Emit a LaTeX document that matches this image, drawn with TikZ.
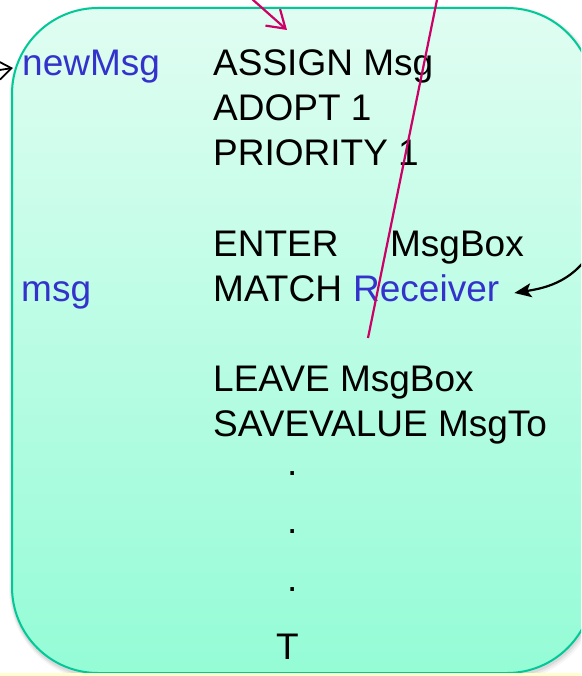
\documentclass[tikz,border=0pt]{standalone}
\usepackage{fontspec}
\setmainfont{Liberation Sans}
\usetikzlibrary{arrows.meta}
\definecolor{boxtop}{RGB}{224,253,242}
\definecolor{boxmid}{RGB}{190,253,228}
\definecolor{boxbot}{RGB}{148,252,214}
\definecolor{boxline}{RGB}{0,200,150}
\definecolor{linkred}{RGB}{204,0,102}
\definecolor{varblue}{RGB}{51,51,204}
\definecolor{stripe}{RGB}{255,255,204}
\begin{document}
\begin{tikzpicture}[x=1pt,y=-1pt,
  code/.style={anchor=base west, inner sep=0pt, font=\fontsize{37}{37}\selectfont},
  var/.style={code, text=varblue},
  redlink/.style={draw=linkred, line width=2.2pt},
  blacklink/.style={draw=black, line width=2.2pt}]
\useasboundingbox (0,0) rectangle (581,676);
\clip (0,0) rectangle (581,676);

% soft shadow under the block
\fill[black, opacity=0.035, rounded corners=92pt] (9,6) rectangle (599,681);
\fill[black, opacity=0.05, rounded corners=90pt] (10,7) rectangle (597,679);
\fill[black, opacity=0.07, rounded corners=88pt] (11,8) rectangle (595,677);

% the block
\shade[top color=boxtop, middle color=boxmid, bottom color=boxbot, rounded corners=86pt]
  (12,8) rectangle (593,673);
\draw[boxline, line width=2pt, rounded corners=86pt] (12,8) rectangle (593,673);

\fill[stripe] (0,673) rectangle (581,676);

% block statements
\node[code] (assign) at (213,76)  {ASSIGN Msg};
\node[code] (adopt)  at (213,121) {ADOPT 1};
\node[code] (prio)   at (213,166) {PRIORITY 1};
\node[code] (enter)  at (213,256) {\makebox[177pt][l]{ENTER}MsgBox};
\node[code] (match)  at (213,301) {MATCH};
\node[var]  (recv)   at (353,301) {Receiver};
\node[code] (leave)  at (213,391) {LEAVE MsgBox};
\node[code] (save)   at (213,436) {SAVEVALUE MsgTo};
\node[code] (dotA)   at (287,475) {.};
\node[code] (dotB)   at (287,533) {.};
\node[code] (dotC)   at (287,591) {.};
\node[code] (term)   at (276,659) {T};

% labels on the left
\node[var] (newmsg) at (22,76)  {newMsg};
\node[var] (msg)    at (21,301) {msg};

% connectors
\coordinate (inTop)  at (243,-9);
\coordinate (inTip)  at (287,30);
\draw[redlink, -{Straight Barb[length=17pt,width=22pt]}] (inTop) -- (inTip);

\coordinate (crossTop) at (439,-10);
\coordinate (crossEnd) at (368,338);
\draw[redlink] (crossTop) -- (crossEnd);

\coordinate (leftIn) at (-14,72);
\draw[blacklink, line width=1.8pt, -{Straight Barb[length=13pt,width=19pt]}]
  (leftIn) -- ([xshift=-9pt,yshift=8pt]newmsg.base west);

\coordinate (rightIn) at (600,235);
\draw[blacklink, -{Stealth[length=17pt,width=14pt,inset=4pt]}]
  (rightIn) .. controls (580,282) and (545,288) .. ([xshift=15pt,yshift=8pt]recv.base east);
\end{tikzpicture}
\end{document}
